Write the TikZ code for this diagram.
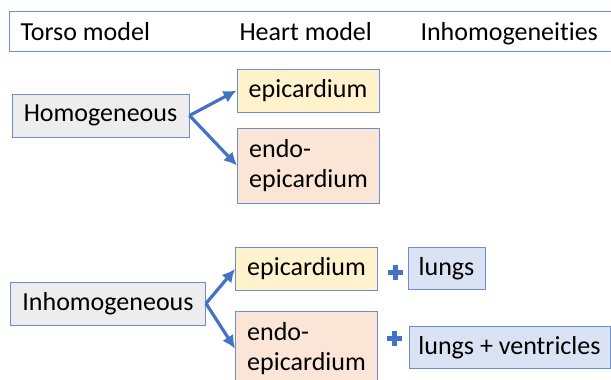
\documentclass[tikz,border=0pt]{standalone}
\usepackage{fontspec}
\setmainfont{Carlito}[RawFeature={-liga;-calt;-clig}]
\usetikzlibrary{arrows.meta}
\definecolor{edgeblue}{HTML}{6C8FD4}
\definecolor{arrowblue}{HTML}{4472C4}
\definecolor{torsofill}{HTML}{EDEDED}
\definecolor{epifill}{HTML}{FFF2CC}
\definecolor{endofill}{HTML}{FBE5D6}
\definecolor{inhomfill}{HTML}{DAE3F3}
\tikzset{
  box/.style={draw=edgeblue, line width=1pt, align=left, inner sep=2pt, font=\fontsize{26}{30}\selectfont},
  torso/.style={box, fill=torsofill, minimum height=43pt},
  epi/.style={box, fill=epifill, minimum width=142pt, minimum height=43pt},
  endo/.style={box, fill=endofill, minimum width=142pt, minimum height=75pt},
  extra/.style={box, fill=inhomfill, minimum height=42pt},
  branch/.style={draw=arrowblue, line width=3.2pt, -{Latex[length=13pt,width=13pt]}},
  plusarm/.style={draw=arrowblue, line width=5pt},
  headtext/.style={anchor=base west, font=\fontsize{26}{30}\selectfont}
}

\begin{document}
\begin{tikzpicture}[x=1pt, y=-1pt]
  \useasboundingbox (0,0) rectangle (611,380);
  % header
  \node [box, fill=white, minimum width=612pt, minimum height=40pt, anchor=north west] (hdr) at (9,11) {};
  \node [headtext] (torso) at (17,40) {Torso model};
  \node [headtext] (heart) at (236,40) {Heart model};
  \node [headtext] (inhom) at (417,40) {Inhomogeneities};
  % homogeneous torso
  \node [torso, minimum width=177pt] (homog) at (100.5,115.5) {Homogeneous};
  \node [epi] (epitop) at (308,90.5) {epicardium};
  \node [endo] (endotop) at (308.5,165.5) {endo-\\epicardium};
  \draw[branch] (homog.east) -- (epitop.west);
  \draw[branch] (homog.east) -- (endotop.west);
  % inhomogeneous torso
  \node [torso, minimum width=195pt] (inhomog) at (108,303.5) {Inhomogeneous};
  \node [epi] (epibot) at (306.5,269) {epicardium};
  \node [endo] (endobot) at (306.5,348.5) {endo-\\epicardium};
  \draw[branch] (inhomog.east) -- (epibot.west);
  \draw[branch] (inhomog.east) -- (endobot.west);
  % extra inhomogeneities
  \node [extra, minimum width=77pt] (lungs) at (446.5,268.5) {lungs};
  \node [extra, minimum width=201pt] (lungsven) at (509.5,347.5) {lungs + ventricles};
  \coordinate (plusA) at (395,272);
  \coordinate (plusB) at (394,338);
  \draw[plusarm] (plusA) +(-7.5,0) -- +(7.5,0) +(0,-7.5) -- +(0,7.5);
  \draw[plusarm] (plusB) +(-7.5,0) -- +(7.5,0) +(0,-7.5) -- +(0,7.5);
\end{tikzpicture}
\end{document}
